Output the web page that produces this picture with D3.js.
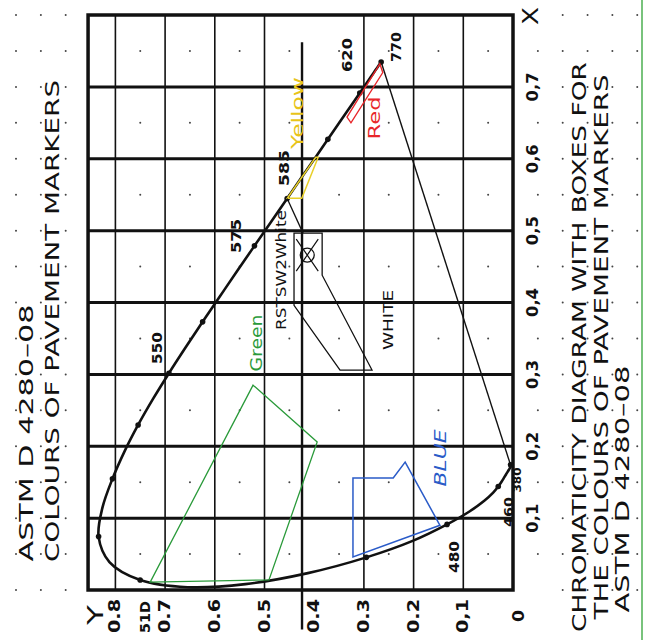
<!DOCTYPE html>
<html><head><meta charset="utf-8">
<script src="https://cdn.jsdelivr.net/npm/d3@7"></script>
<style>html,body{margin:0;padding:0;background:#fff}svg{display:block}</style>
</head><body><svg id="c" width="651" height="640"></svg>
<script>
// CIE 1931 spectral locus [wavelength, x, y]
const locus = [
[380,0.1741,0.0050],[385,0.1740,0.0050],[390,0.1738,0.0049],[395,0.1736,0.0049],[400,0.1733,0.0048],
[405,0.1730,0.0048],[410,0.1726,0.0048],[415,0.1721,0.0048],[420,0.1714,0.0051],[425,0.1703,0.0058],
[430,0.1689,0.0069],[435,0.1669,0.0086],[440,0.1644,0.0109],[445,0.1611,0.0138],[450,0.1566,0.0177],
[455,0.1510,0.0227],[460,0.1440,0.0297],[465,0.1355,0.0399],[470,0.1241,0.0578],[475,0.1096,0.0868],
[480,0.0913,0.1327],[485,0.0687,0.2007],[490,0.0454,0.2950],[495,0.0235,0.4127],[500,0.0082,0.5384],
[505,0.0039,0.6548],[510,0.0139,0.7502],[515,0.0389,0.8120],[520,0.0743,0.8338],[525,0.1142,0.8262],
[530,0.1547,0.8059],[535,0.1929,0.7816],[540,0.2296,0.7543],[545,0.2658,0.7243],[550,0.3016,0.6923],
[555,0.3373,0.6589],[560,0.3731,0.6245],[565,0.4087,0.5896],[570,0.4441,0.5547],[575,0.4788,0.5202],
[580,0.5125,0.4866],[585,0.5448,0.4544],[590,0.5752,0.4242],[595,0.6029,0.3965],[600,0.6270,0.3725],
[605,0.6482,0.3514],[610,0.6658,0.3340],[615,0.6801,0.3197],[620,0.6915,0.3083],[625,0.7006,0.2993],
[630,0.7079,0.2920],[635,0.7140,0.2859],[640,0.7190,0.2809],[645,0.7230,0.2770],[650,0.7260,0.2740],
[660,0.7300,0.2700],[670,0.7320,0.2680],[680,0.7334,0.2666],[700,0.7347,0.2653],[770,0.7347,0.2653]
];
const markedWavelengths = [380,460,480,490,510,520,530,540,550,560,575,585,600,620,770];
const wavelengthLabels = ["380","460","480","51D","550","575","585","620","770"];
// colour boxes [x, y]
const greenBox  = [[0.285,0.523],[0.206,0.394],[0.014,0.491],[0.011,0.730]];
const yellowBox = [[0.545,0.454],[0.602,0.397],[0.602,0.392],[0.545,0.425]];
const redBox    = [[0.658,0.334],[0.732,0.268],[0.720,0.262],[0.650,0.326]];
const blueBox   = [[0.046,0.322],[0.156,0.322],[0.156,0.241],[0.178,0.217],[0.090,0.147]];
const whiteBox  = [[0.4965,0.4406],[0.4965,0.384],[0.438,0.384],[0.306,0.2837],[0.306,0.348],[0.396,0.4406]];
const whiteLead = [[0.5448,0.4544],[0.4965,0.4225]];
const samplePoint = [0.466,0.414];
const refLine = [[-0.055,0.4245],[0.762,0.4245]];
const xTicks = [0.1,0.2,0.3,0.4,0.5,0.6,0.7];
const xTickLabels = ["0,1","0,2","0,3","0,4","0,5","0,6","0,7"];
const yGrid = [0.1,0.2,0.3,0.5,0.6,0.7,0.8];
const yTicks = [0.8,0.7,0.6,0.5,0.4,0.3,0.2,0.1,0];
const yTickLabels = ["0.8","0.7","0.6","0.5","0.4","0.3","0.2","0,1","0"];
const titleLeft = ["ASTM D 4280–08","COLOURS OF PAVEMENT MARKERS"];
const titleRight = ["CHROMATICITY DIAGRAM WITH BOXES FOR","THE COLOURS OF PAVEMENT MARKERS","ASTM D 4280–08"];

const svg = d3.select("#c");
const FONT = "'DejaVu Sans', 'Liberation Sans', sans-serif";
// x runs upward, y runs leftward (rotated diagram)
const xS = d3.scaleLinear().domain([0,0.8]).range([590,15]);
const yS = d3.scaleLinear().domain([0,0.8]).range([513,115.4]);
const yMax = 0.855;
const P = d => [yS(d[1]), xS(d[0])];

// dot grid
const dots = [];
for (let i=0;i<=16;i++){ const xv=i*0.05;
  for (let j=-5;j<=20;j++){ const yv=j*0.05;
    const inside = yv>0.001 && yv<yMax-0.001;
    if (inside){ if (i%2===1 && j%2===1 && yv<0.8) dots.push([xv,yv]); }
    else if (yv>yMax || yv< -0.001){ if (j===-1 && i%2===0) continue; dots.push([xv,yv]); }
  }}
svg.append("g").selectAll("circle").data(dots).join("circle")
  .attr("cx",d=>yS(d[1])).attr("cy",d=>xS(d[0])).attr("r",1).attr("fill","#444");

// grid
const g = svg.append("g");
g.selectAll(".hx").data(xTicks).join("line")
  .attr("x1",yS(yMax)).attr("x2",yS(0)).attr("y1",d=>xS(d)).attr("y2",d=>xS(d))
  .attr("stroke","#111").attr("stroke-width",3);
g.selectAll(".vy").data(yGrid).join("line")
  .attr("x1",d=>yS(d)).attr("x2",d=>yS(d)).attr("y1",xS(0.8)).attr("y2",xS(0))
  .attr("stroke","#111").attr("stroke-width",1.6);
g.append("line").attr("x1",P(refLine[0])[0]).attr("y1",P(refLine[0])[1])
  .attr("x2",P(refLine[1])[0]).attr("y2",P(refLine[1])[1]).attr("stroke","#111").attr("stroke-width",2.4);
g.append("rect").attr("x",yS(yMax)).attr("y",xS(0.8))
  .attr("width",yS(0)-yS(yMax)).attr("height",xS(0)-xS(0.8))
  .attr("fill","none").attr("stroke","#111").attr("stroke-width",3.5);

// purple line & locus
const line = d3.line().x(d=>yS(d[2])).y(d=>xS(d[1])).curve(d3.curveCatmullRom.alpha(0.5));
svg.append("line").attr("x1",yS(locus[0][2])).attr("y1",xS(locus[0][1]))
  .attr("x2",yS(locus[locus.length-1][2])).attr("y2",xS(locus[locus.length-1][1]))
  .attr("stroke","#111").attr("stroke-width",1.4);
svg.append("path").attr("d",line(locus)).attr("fill","none").attr("stroke","#111").attr("stroke-width",2.6).attr("stroke-linejoin","round");
svg.append("g").selectAll("circle").data(locus.filter(d=>markedWavelengths.includes(d[0]))).join("circle")
  .attr("cx",d=>yS(d[2])).attr("cy",d=>xS(d[1])).attr("r",2.8).attr("fill","#111");

// boxes
const poly = (pts,col,w) => svg.append("path").attr("d","M"+pts.map(P).map(p=>p.join(",")).join("L")+"Z")
  .attr("fill","none").attr("stroke",col).attr("stroke-width",w);
poly(greenBox,"#2a9a3a",1.3);
poly(yellowBox,"#e8cf2a",1.5);
poly(redBox,"#e8262a",1.4);
poly(blueBox,"#2a5bc8",1.5);
poly(whiteBox,"#111",1.3);
svg.append("path").attr("d",d3.line()(whiteLead.map(P))).attr("stroke","#111").attr("stroke-width",1.3);
const sp = P(samplePoint);
svg.append("circle").attr("cx",sp[0]).attr("cy",sp[1]).attr("r",7).attr("fill","none").attr("stroke","#111").attr("stroke-width",1.3);
svg.append("path").attr("d",`M${sp[0]-11},${sp[1]-16}L${sp[0]+11},${sp[1]+16}M${sp[0]+11},${sp[1]-16}L${sp[0]-11},${sp[1]+16}`)
  .attr("stroke","#111").attr("stroke-width",1.2);

// rotated text helper
function rtext(x,y,t,opt={}){
  const el = svg.append("text").attr("transform",`translate(${x},${y}) rotate(-90)`)
    .attr("text-anchor","middle").attr("dominant-baseline","central")
    .attr("font-family",FONT).attr("font-size",opt.size||14)
    .attr("font-weight",opt.weight||"normal").attr("fill",opt.fill||"#111")
    .attr("font-style",opt.style||"normal").text(t);
  if (opt.len){ el.attr("textLength",opt.len).attr("lengthAdjust","spacingAndGlyphs"); }
  return el;
}
// tick labels
xTicks.forEach((v,i)=> rtext(533, xS(v), xTickLabels[i], {size:15, weight:"bold", len:29}));
yTicks.forEach((v,i)=> rtext(yS(v)+(v===0?6:0), 616, yTickLabels[i], {size:15, weight:"bold", len:yTickLabels[i].length>1?34:12}));
rtext(96, 615, "Y", {size:21, len:20});
rtext(531, 16, "X", {size:21, len:18});

// wavelength labels (positioned near their locus points)
const wlPos = {"380":[517,480,11,25],"460":[508,512,13,30],"480":[454,557,14,32],"51D":[145,617,14,32],
  "550":[157,348,14,32],"575":[236,236,14,34],"585":[284,168,14,36],"620":[347,55,14,34],"770":[396,47,14,30]};
wavelengthLabels.forEach(t=>{ const p=wlPos[t]; rtext(p[0],p[1],t,{size:p[2],weight:"bold",len:p[3]}); });

// box names
rtext(257, 343, "Green", {size:15, fill:"#2a9a3a", len:57});
rtext(298, 113, "Yellow", {size:15, fill:"#e8c41a", len:72});
rtext(375, 118, "Red", {size:15, fill:"#e8262a", len:43});
rtext(388, 320, "WHITE", {size:14, len:60});
rtext(441, 458, "BLUE", {size:15, fill:"#2a5bc8", style:"italic", len:57});
rtext(281, 270, "RSTSW2White", {size:14, len:120});

// titles
rtext(26, 433, titleLeft[0], {size:19, len:257});
rtext(52, 321, titleLeft[1], {size:19, len:482});
rtext(579, 347, titleRight[0], {size:19, len:570});
rtext(601, 347, titleRight[1], {size:19, len:545});
rtext(622, 489, titleRight[2], {size:19, len:247});

// right border
svg.append("line").attr("x1",642).attr("x2",642).attr("y1",0).attr("y2",640).attr("stroke","#4caf50").attr("stroke-width",1.5);
</script></body></html>
